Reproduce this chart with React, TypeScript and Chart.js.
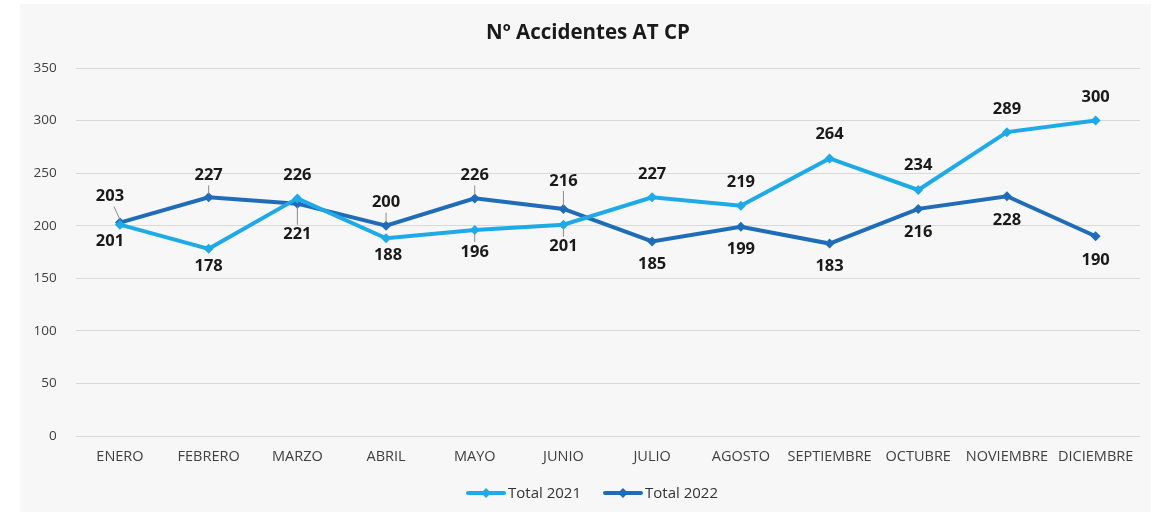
import React, { useEffect, useRef } from "react";
import { Chart, registerables } from "chart.js";

Chart.register(...registerables);

const TITLE = "Nº Accidentes AT CP";
const MONTHS = [
  "ENERO", "FEBRERO", "MARZO", "ABRIL", "MAYO", "JUNIO",
  "JULIO", "AGOSTO", "SEPTIEMBRE", "OCTUBRE", "NOVIEMBRE", "DICIEMBRE",
];
const SERIES_2021_LABEL = "Total 2021";
const SERIES_2022_LABEL = "Total 2022";
const TOTAL_2021 = [201, 178, 226, 188, 196, 201, 227, 219, 264, 234, 289, 300];
const TOTAL_2022 = [203, 227, 221, 200, 226, 216, 185, 199, 183, 216, 228, 190];
const Y_MIN = 0;
const Y_MAX = 350;
const Y_STEP = 50;

// label placement (layout only): [dx, dy] from the point, and leader-line flags
const OFFSETS_2021: [number, number][] = [
  [-10, 17], [0, 17], [0, -23], [2, 17], [0, 22], [0, 22],
  [0, -23], [0, -23], [0, -24], [0, -25], [0, -23], [0, -23],
];
const OFFSETS_2022: [number, number][] = [
  [-10, -26], [0, -22], [0, 31], [0, -23], [0, -23], [0, -28],
  [0, 23], [0, 23], [0, 23], [0, 23], [0, 24], [0, 24],
];
const LEADERS_2021 = [false, false, false, false, true, true, false, false, false, false, false, false];
const LEADERS_2022 = [true, true, true, true, true, true, false, false, false, false, false, false];

const COLOR_2021 = "#1eaae6";
const COLOR_2022 = "#1f6cb8";
const FONT = "'Open Sans', 'Noto Sans', sans-serif";

function legendImage(color: string) {
  const c = document.createElement("canvas");
  c.width = 40;
  c.height = 12;
  const ctx = c.getContext("2d")!;
  ctx.strokeStyle = color;
  ctx.lineWidth = 4;
  ctx.lineCap = "round";
  ctx.beginPath();
  ctx.moveTo(2, 6);
  ctx.lineTo(38, 6);
  ctx.stroke();
  ctx.fillStyle = color;
  ctx.beginPath();
  ctx.moveTo(20, 1);
  ctx.lineTo(25, 6);
  ctx.lineTo(20, 11);
  ctx.lineTo(15, 6);
  ctx.closePath();
  ctx.fill();
  return c;
}

const panelPlugin = {
  id: "panel",
  beforeDraw(chart: any) {
    const { ctx, width, height } = chart;
    ctx.save();
    ctx.fillStyle = "#ffffff";
    ctx.fillRect(0, 0, width, height);
    ctx.fillStyle = "#f7f7f7";
    ctx.fillRect(20, 4, 1131, 508);
    ctx.restore();
  },
  afterDraw(chart: any) {
    const { ctx } = chart;
    ctx.save();
    // title
    ctx.fillStyle = "#1a1a1a";
    ctx.font = `bold 20.5px ${FONT}`;
    ctx.textAlign = "center";
    ctx.textBaseline = "middle";
    ctx.fillText(TITLE, 588, 33);

    // legend
    ctx.font = `15px ${FONT}`;
    const items = [
      { label: SERIES_2021_LABEL, color: COLOR_2021 },
      { label: SERIES_2022_LABEL, color: COLOR_2022 },
    ];
    const sample = 40, gapText = 2, gapItem = 22;
    const widths = items.map((it) => sample + gapText + ctx.measureText(it.label).width);
    const total = widths.reduce((a, b) => a + b, 0) + gapItem * (items.length - 1);
    let x = 592 - total / 2;
    const y = 493;
    items.forEach((it, i) => {
      ctx.drawImage(legendImage(it.color), x, y - 6);
      ctx.fillStyle = "#333333";
      ctx.textAlign = "left";
      ctx.fillText(it.label, x + sample + gapText, y + 1);
      x += widths[i] + gapItem;
    });
    ctx.restore();
  },
};

const labelsPlugin = {
  id: "valueLabels",
  afterDatasetsDraw(chart: any) {
    const { ctx } = chart;
    const offsets = [OFFSETS_2021, OFFSETS_2022];
    const leaders = [LEADERS_2021, LEADERS_2022];
    ctx.save();
    ctx.font = `bold 16.5px ${FONT}`;
    ctx.textAlign = "center";
    ctx.textBaseline = "middle";
    chart.data.datasets.forEach((ds: any, di: number) => {
      const meta = chart.getDatasetMeta(di);
      meta.data.forEach((pt: any, i: number) => {
        const [dx, dy] = offsets[di][i];
        const lx = pt.x + dx;
        const ly = pt.y + dy;
        if (leaders[di][i]) {
          const sy = dy < 0 ? ly + 10 : ly - 10;
          const ey = dy < 0 ? pt.y - 3 : pt.y + 3;
          ctx.strokeStyle = "#8c8c8c";
          ctx.lineWidth = 1;
          ctx.beginPath();
          ctx.moveTo(lx + (dx !== 0 ? 4 : 0), sy);
          ctx.lineTo(pt.x, ey);
          ctx.stroke();
        }
        ctx.fillStyle = "#1a1a1a";
        ctx.fillText(String(ds.data[i]), lx, ly);
      });
    });
    ctx.restore();
  },
};

export default function App() {
  const ref = useRef<HTMLCanvasElement>(null);
  useEffect(() => {
    if (!ref.current) return;
    const chart = new Chart(ref.current, {
      type: "line",
      data: {
        labels: MONTHS,
        datasets: [
          {
            label: SERIES_2021_LABEL,
            data: TOTAL_2021,
            borderColor: COLOR_2021,
            backgroundColor: COLOR_2021,
            borderWidth: 4,
            pointStyle: "rectRot",
            pointRadius: 5,
            pointBorderWidth: 0,
            tension: 0,
          },
          {
            label: SERIES_2022_LABEL,
            data: TOTAL_2022,
            borderColor: COLOR_2022,
            backgroundColor: COLOR_2022,
            borderWidth: 4,
            pointStyle: "rectRot",
            pointRadius: 5,
            pointBorderWidth: 0,
            tension: 0,
          },
        ],
      },
      options: {
        animation: false,
        responsive: false,
        maintainAspectRatio: false,
        layout: { padding: { left: 20, right: 20, top: 68, bottom: 51 } },
        plugins: {
          legend: { display: false },
          title: { display: false },
          tooltip: { enabled: false },
        },
        scales: {
          x: {
            offset: true,
            grid: { display: false, drawTicks: false },
            border: { display: false },
            ticks: {
              color: "#404040",
              font: { family: FONT, size: 14.5 },
              padding: 12,
              maxRotation: 0,
              autoSkip: false,
            },
            afterFit(scale: any) {
              scale.height = 30;
            },
          },
          y: {
            min: Y_MIN,
            max: Y_MAX,
            grid: { color: "#d9d9d9", lineWidth: 1, drawTicks: false },
            border: { display: false },
            ticks: {
              stepSize: Y_STEP,
              color: "#404040",
              font: { family: FONT, size: 13.5 },
              padding: 19,
            },
            afterFit(scale: any) {
              scale.width = 55.6;
            },
          },
        },
      },
      plugins: [panelPlugin, labelsPlugin],
    });
    return () => chart.destroy();
  }, []);
  return (
    <div style={{ position: "absolute", left: 0, top: 0, width: 1160, height: 517, background: "#fff" }}>
      <canvas ref={ref} width={1160} height={517} style={{ width: 1160, height: 517, display: "block" }} />
    </div>
  );
}
